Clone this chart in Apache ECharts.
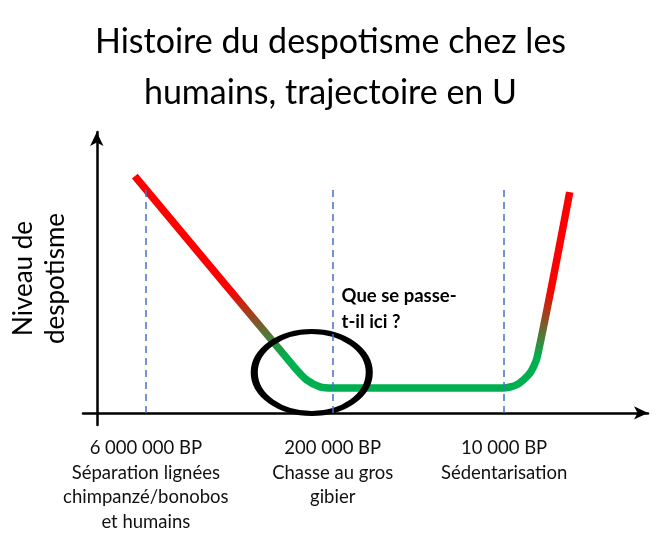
<!DOCTYPE html>
<html>
<head>
<meta charset="utf-8">
<title>Histoire du despotisme</title>
<script src="https://cdn.jsdelivr.net/npm/echarts@6/dist/echarts.min.js"></script>
<style>
  html, body { margin: 0; padding: 0; background: #fff; }
  #chart { width: 661px; height: 547px; }
</style>
</head>
<body>
<div id="chart"></div>
<script>
// trajectoire en U (x : 0..100 le long de l'axe, y : niveau 0..100)
var trajX = [6.9, 35.8, 38.1, 40.5, 42.8, 73.7, 76.2, 78.6, 79.9, 85.8];
var trajY = [84.3, 16.4, 11.7, 9.3, 8.9, 8.9, 10.0, 14.2, 19.9, 78.6];

// repères temporels
var periodX = [8.9, 42.8, 73.9];
var periodLabels = [
	'6 000 000 BP\nSéparation lignées\nchimpanzé/bonobos\net humains',
	'200 000 BP\nChasse au gros\ngibier',
	'10 000 BP\nSédentarisation'
];
var periodTop = 80;

// annotation
var circleCenter = [39.0, 14.4];
var questionPos = [44.5, 36.7];
var questionText = 'Que se passe-\nt-il ici ?';

var fontName = 'Lato, "Open Sans", sans-serif';

var chart = echarts.init(document.getElementById('chart'));

function buildTraj(){
	var data = [];
	for (var i = 0; i < trajX.length; i++) {
		data.push([trajX[i], trajY[i]]);
	}
	return data;
}

function buildPeriodLines(){
	var lines = [];
	for (var i = 0; i < periodX.length; i++) {
		lines.push([{coord: [periodX[i], 0]}, {coord: [periodX[i], periodTop]}]);
	}
	return lines;
}

var option = {
	backgroundColor: '#fff',
	animation: false,
	title: {
		text: 'Histoire du despotisme chez les\nhumains, trajectoire en U',
		left: 'center',
		top: 17,
		padding: 0,
		textStyle: {
			fontFamily: fontName,
			fontWeight: 'normal',
			fontSize: 34,
			lineHeight: 51,
			color: '#000'
		}
	},
	grid: { left: 83, right: 13, top: 132, bottom: 122 },
	visualMap: {
		show: false,
		type: 'continuous',
		seriesIndex: 0,
		dimension: 1,
		min: 20,
		max: 44,
		inRange: { color: ['#00b050', '#ff0000'] }
	},
	xAxis: {
		type: 'value',
		min: -2.5,
		max: 100,
		splitLine: { show: false },
		axisLine: {
			onZero: true,
			symbol: ['none', 'arrow'],
			symbolSize: [10, 14],
			lineStyle: { color: '#000', width: 2.5 }
		},
		axisTick: { show: false },
		axisLabel: {
			customValues: periodX,
			margin: 11,
			fontFamily: fontName,
			fontSize: 18.5,
			lineHeight: 24.5,
			color: '#111',
			verticalAlign: 'top',
			formatter: function (v) {
				for (var i = 0; i < periodX.length; i++) {
					if (Math.abs(v - periodX[i]) < 0.01) return periodLabels[i];
				}
				return '';
			}
		}
	},
	yAxis: {
		type: 'value',
		min: -4.3,
		max: 100,
		name: 'Niveau de\ndespotisme',
		nameLocation: 'middle',
		nameRotate: 90,
		nameGap: 11,
		nameTextStyle: {
			fontFamily: fontName,
			fontSize: 26,
			lineHeight: 32,
			color: '#000'
		},
		splitLine: { show: false },
		axisLine: {
			onZero: true,
			symbol: ['none', 'arrow'],
			symbolSize: [10, 14],
			lineStyle: { color: '#000', width: 2.5 }
		},
		axisTick: { show: false },
		axisLabel: { show: false }
	},
	series: [
		{
			type: 'line',
			data: buildTraj(),
			showSymbol: false,
			smooth: 0.25,
			z: 3,
			lineStyle: { width: 7.5, cap: 'butt', join: 'round' }
		},
		{
			type: 'line',
			data: [],
			z: 2,
			markLine: {
				silent: true,
				symbol: ['none', 'none'],
				label: { show: false },
				lineStyle: { color: '#4472c4', width: 1.5, type: [7, 5] },
				data: buildPeriodLines()
			}
		},
		{
			type: 'scatter',
			data: [circleCenter],
			symbol: 'circle',
			symbolSize: [115, 82],
			z: 4,
			itemStyle: { color: 'rgba(0,0,0,0)', borderColor: '#000', borderWidth: 6, opacity: 1 }
		},
		{
			type: 'scatter',
			data: [questionPos],
			symbolSize: 1,
			itemStyle: { color: 'rgba(0,0,0,0)', opacity: 1 },
			label: {
				show: true,
				position: [0, 0],
				align: 'left',
				verticalAlign: 'middle',
				formatter: questionText,
				fontFamily: fontName,
				fontWeight: 'bold',
				fontSize: 18.5,
				lineHeight: 26,
				color: '#000',
				opacity: 1
			}
		}
	]
};

chart.setOption(option);
</script>
</body>
</html>
